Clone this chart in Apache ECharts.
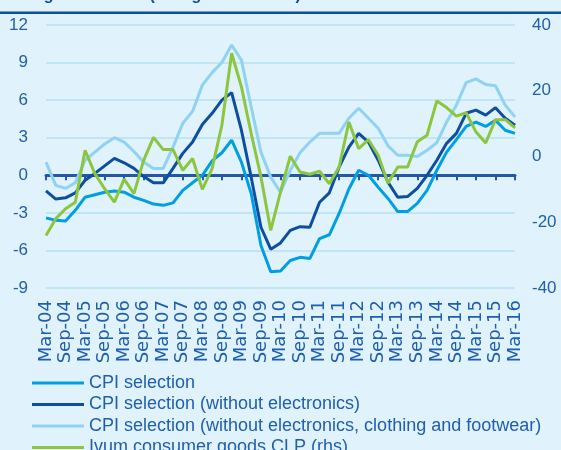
<!DOCTYPE html>
<html lang="en">
<head>
    <meta charset="UTF-8">
    <title>CPI selection vs Ivum</title>
    <script src="https://cdn.jsdelivr.net/npm/echarts@6/dist/echarts.min.js"></script>
    <style>
        html, body { margin: 0; padding: 0; background: #e0f2fb; }
        #chart { width: 561px; height: 450px; }
    </style>
</head>
<body>
    <div id="chart"></div>
    <script>
        // quarterly points, labels every 6 months
        var quarters = [
            'Mar-04', 'Jun-04', 'Sep-04', 'Dec-04', 'Mar-05', 'Jun-05', 'Sep-05', 'Dec-05',
            'Mar-06', 'Jun-06', 'Sep-06', 'Dec-06', 'Mar-07', 'Jun-07', 'Sep-07', 'Dec-07',
            'Mar-08', 'Jun-08', 'Sep-08', 'Dec-08', 'Mar-09', 'Jun-09', 'Sep-09', 'Dec-09',
            'Mar-10', 'Jun-10', 'Sep-10', 'Dec-10', 'Mar-11', 'Jun-11', 'Sep-11', 'Dec-11',
            'Mar-12', 'Jun-12', 'Sep-12', 'Dec-12', 'Mar-13', 'Jun-13', 'Sep-13', 'Dec-13',
            'Mar-14', 'Jun-14', 'Sep-14', 'Dec-14', 'Mar-15', 'Jun-15', 'Sep-15', 'Dec-15',
            'Mar-16'
        ]
        var leftTicks = [-9, -6, -3, 0, 3, 6, 9, 12]
        var rightTicks = [-40, -20, 0, 20, 40]

        var cpiSel = [
            -3.4, -3.6, -3.65, -2.8, -1.75, -1.55, -1.35, -1.25, -1.35, -1.75, -2.0, -2.3, -2.4, -2.2, -1.2, -0.6, 0.0,
            1.15, 1.8, 2.8, 1.05, -1.45, -5.6, -7.7, -7.65, -6.8, -6.55, -6.65, -5.05, -4.75, -3.05, -1.1, 0.4,
            0.0, -0.95, -1.85, -2.9, -2.9, -2.25, -1.2, 0.4, 1.85, 2.85, 3.9, 4.25, 3.9, 4.4, 3.6, 3.35
        ]
        var cpiNoElec = [
            -1.25, -1.9, -1.8, -1.4, -0.4, 0.15, 0.75, 1.35, 1.0, 0.55, -0.1, -0.6, -0.6, 0.55, 1.75, 2.65, 4.05,
            4.95, 6.0, 6.6, 3.6, -0.15, -4.15, -5.9, -5.4, -4.4, -4.1, -4.15, -2.15, -1.4, 0.65, 2.25, 3.35,
            2.65, 1.2, -0.55, -1.75, -1.7, -1.05, 0.0, 1.2, 2.55, 3.35, 4.95, 5.2, 4.8, 5.4, 4.55, 4.0
        ]
        var cpiNoElecCloth = [
            1.05, -0.8, -1.05, -0.6, 1.2, 1.85, 2.5, 3.0, 2.65, 1.9, 1.05, 0.55, 0.55, 2.25, 4.15, 5.1, 7.2,
            8.2, 9.0, 10.4, 9.2, 5.45, 1.85, -0.15, -1.35, 0.4, 1.8, 2.65, 3.35, 3.35, 3.35, 4.55, 5.35,
            4.55, 3.75, 2.35, 1.6, 1.6, 1.5, 2.0, 2.6, 4.25, 5.6, 7.4, 7.7, 7.25, 7.15, 5.6, 4.65
        ]
        var ivumClp = [
            -24.0, -18.9, -15.9, -13.9, 1.9, -5.2, -9.8, -13.9, -6.9, -11.3, -1.1, 5.8, 2.1, 2.1, -4.2, -0.6, -10.0,
            -3.7, 9.5, 31.4, 21.2, 7.0, -6.2, -22.5, -10.8, 0.1, -4.7, -5.4, -4.5, -8.3, -3.2, 10.5, 2.4,
            5.1, 0.4, -8.1, -3.2, -3.2, 4.5, 6.5, 16.9, 14.9, 12.3, 13.3, 7.5, 4.1, 11.2, 11.2, 8.7
        ]

        var names = [
            'CPI selection',
            'CPI selection (without electronics)',
            'CPI selection (without electronics, clothing and footwear)',
            'Ivum consumer goods CLP (rhs)'
        ]
        var colors = ['#009fe3', '#0d4f9e', '#8fd2f3', '#8cc63e']
        var txt = '#1f5fae'

        var myChart = echarts.init(document.getElementById('chart'))

        function line(name, data, color, yIdx) {
            return {
                name: name,
                type: 'line',
                data: data,
                yAxisIndex: yIdx,
                xAxisIndex: 0,
                symbol: 'none',
                lineStyle: { color: color, width: 3 },
                itemStyle: { color: color }
            }
        }

        var option = {
            backgroundColor: '#e0f2fb',
            animation: false,
            color: colors,
            graphic: [{
                type: 'text',
                left: 2,
                top: -12,
                style: {
                    text: 'Ivum goods vs CPI (% avg. annual rate)',
                    font: 'bold 16px "Liberation Sans", Arial, sans-serif',
                    fill: '#0d4c9f'
                }
            }, {
                type: 'rect',
                shape: { x: 0, y: 11.5, width: 561, height: 2.5 },
                style: { fill: '#0d4ea1' }
            }],
            grid: { left: 46, right: 46, top: 25, bottom: 162, containLabel: false },
            legend: {
                orient: 'vertical',
                left: 32,
                top: 374,
                height: 200,
                padding: 0,
                icon: 'rect',
                itemWidth: 52,
                itemHeight: 3,
                itemGap: 3.5,
                data: names,
                textStyle: {
                    color: txt,
                    fontSize: 18,
                    lineHeight: 18,
                    fontFamily: '"Liberation Sans", Arial, sans-serif'
                }
            },
            xAxis: [{
                // zero line with half-year ticks
                type: 'category',
                data: quarters,
                boundaryGap: false,
                position: 'bottom',
                axisLine: { onZero: true, lineStyle: { color: '#2458a6', width: 3 } },
                axisTick: { show: true, interval: 1, length: 5, lineStyle: { color: '#2458a6', width: 2 } },
                axisLabel: { show: false },
                splitLine: { show: false }
            }, {
                // labels at the bottom
                type: 'category',
                data: quarters,
                boundaryGap: false,
                position: 'bottom',
                axisLine: { show: false, onZero: false },
                axisTick: { show: false },
                axisLabel: {
                    interval: 1,
                    rotate: 90,
                    margin: 12,
                    color: txt,
                    fontSize: 18,
                    fontFamily: '"DejaVu Sans", sans-serif'
                },
                splitLine: { show: false }
            }],
            yAxis: [{
                type: 'value',
                min: leftTicks[0],
                max: leftTicks[leftTicks.length - 1],
                interval: 3,
                axisLine: { show: false },
                axisTick: { show: false },
                axisLabel: {
                    margin: 18,
                    color: txt,
                    fontSize: 17,
                    fontFamily: '"Liberation Sans", Arial, sans-serif'
                },
                splitLine: { lineStyle: { color: '#b9e1f4', width: 1.5 } }
            }, {
                type: 'value',
                min: rightTicks[0],
                max: rightTicks[rightTicks.length - 1],
                interval: 20,
                position: 'right',
                axisLine: { show: false },
                axisTick: { show: false },
                axisLabel: {
                    margin: 17,
                    color: txt,
                    fontSize: 17,
                    fontFamily: '"Liberation Sans", Arial, sans-serif'
                },
                splitLine: { show: false }
            }],
            series: [
                line(names[0], cpiSel, colors[0], 0),
                line(names[1], cpiNoElec, colors[1], 0),
                line(names[2], cpiNoElecCloth, colors[2], 0),
                line(names[3], ivumClp, colors[3], 1)
            ]
        }
        myChart.setOption(option)
    </script>
</body>
</html>
